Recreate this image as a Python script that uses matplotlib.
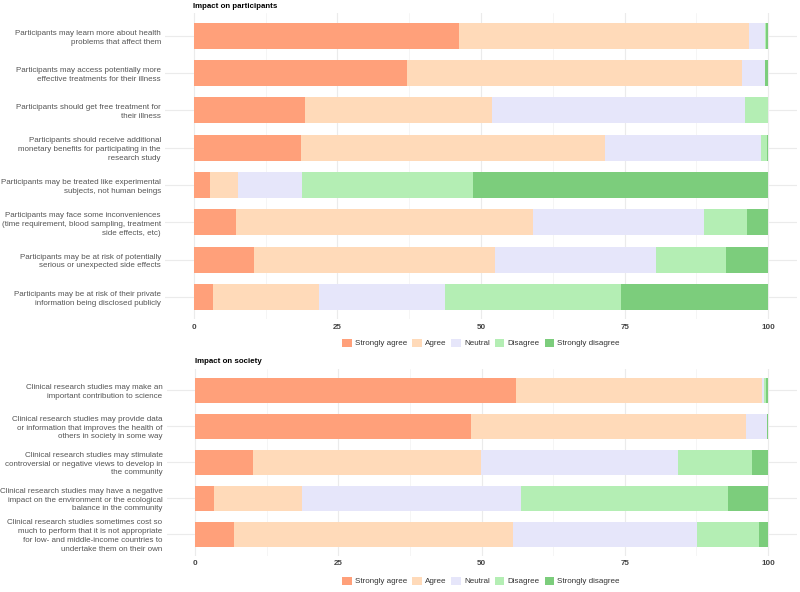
import numpy as np
import matplotlib
matplotlib.use("Agg")
import matplotlib.pyplot as plt
from matplotlib.patches import Patch

plt.rcParams['font.family'] = ['Liberation Sans', 'DejaVu Sans']

levels = ["Strongly agree", "Agree", "Neutral", "Disagree", "Strongly disagree"]
colors = ["#FFA07A", "#FFDAB9", "#E6E6FA", "#B4EEB4", "#7CCD7C"]

part_labels = [
    "Participants may learn more about health\nproblems that affect them",
    "Participants may access potentially more\neffective treatments for their illness",
    "Participants should get free treatment for\ntheir illness",
    "Participants should receive additional\nmonetary benefits for participating in the\nresearch study",
    "Participants may be treated like experimental\nsubjects, not human beings",
    "Participants may face some inconveniences\n(time requirement, blood sampling, treatment\nside effects, etc)",
    "Participants may be at risk of potentially\nserious or unexpected side effects",
    "Participants may be at risk of their private\ninformation being disclosed publicly",
]
# percentages per level: SA, A, N, D, SD
part_sa = [46.2, 37.2, 19.4, 18.7, 2.9, 7.3, 10.5, 3.3]
part_a = [50.5, 58.2, 32.5, 52.8, 4.8, 51.8, 41.9, 18.5]
part_n = [2.7, 4.1, 44.1, 27.3, 11.2, 29.7, 28.0, 21.9]
part_d = [0.2, 0.0, 4.0, 0.9, 29.7, 7.5, 12.3, 30.6]
part_sd = [0.4, 0.5, 0.0, 0.3, 51.4, 3.7, 7.3, 25.7]

soc_labels = [
    "Clinical research studies may make an\nimportant contribution to science",
    "Clinical research studies may provide data\nor information that improves the health of\nothers in society in some way",
    "Clinical research studies may stimulate\ncontroversial or negative views to develop in\nthe community",
    "Clinical research studies may have a negative\nimpact on the environment or the ecological\nbalance in the community",
    "Clinical research studies sometimes cost so\nmuch to perform that it is not appropriate\nfor low- and middle-income countries to\nundertake them on their own",
]
soc_sa = [56.0, 48.2, 10.0, 3.3, 6.8]
soc_a = [42.9, 47.9, 39.8, 15.4, 48.6]
soc_n = [0.4, 3.7, 34.5, 38.2, 32.2]
soc_d = [0.4, 0.0, 12.9, 36.2, 10.8]
soc_sd = [0.3, 0.2, 2.8, 6.9, 1.6]

W, H = 800, 592
fig = plt.figure(figsize=(W / 100, H / 100), dpi=100)


def px_axes(left, right, top, bottom):
    return fig.add_axes([left / W, 1 - bottom / H, (right - left) / W, (bottom - top) / H])


def draw_panel(ax, labels, series, title, title_x, title_y):
    n = len(labels)
    y = np.arange(n)
    left = np.zeros(n)
    for vals, c in zip(series, colors):
        vals = np.array(vals)
        ax.barh(y, vals, left=left, height=0.7, color=c, edgecolor='none', zorder=2)
        left += vals
    ax.set_xlim(-5, 105)
    ax.set_ylim(n - 1 + 0.6, -0.6)
    ax.set_yticks(y)
    ax.set_yticklabels(labels, fontsize=5.75, color="#555555", linespacing=1.35)
    ax.set_xticks([0, 25, 50, 75, 100])
    ax.set_xticklabels(["0", "25", "50", "75", "100"], fontsize=5.8, color="#444444",
                       fontweight='bold')
    ax.set_xticks([12.5, 37.5, 62.5, 87.5], minor=True)
    ax.tick_params(axis='both', which='both', length=0, pad=3)
    ax.grid(axis='x', which='major', color="#EBEBEB", lw=0.8, zorder=0)
    ax.grid(axis='x', which='minor', color="#F2F2F2", lw=0.5, zorder=0)
    ax.grid(axis='y', which='major', color="#EBEBEB", lw=0.8, zorder=0)
    for s in ax.spines.values():
        s.set_visible(False)
    fig.text(title_x / W, 1 - title_y / H, title, fontsize=5.7, fontweight='bold',
             color="black", ha='left', va='center')


ax1 = px_axes(165, 797, 13.4, 319.4)
draw_panel(ax1, part_labels, [part_sa, part_a, part_n, part_d, part_sd],
           "Impact on participants", 193, 6.5)

ax2 = px_axes(166.7, 796.6, 368.6, 555.8)
draw_panel(ax2, soc_labels, [soc_sa, soc_a, soc_n, soc_d, soc_sd],
           "Impact on society", 195, 361.5)

handles = [Patch(facecolor=c, edgecolor='none') for c in colors]
for ycen in (343, 581):
    fig.legend(handles, levels, loc='center', bbox_to_anchor=(481 / W, 1 - ycen / H),
               ncol=5, frameon=False, fontsize=5.8, handlelength=1.2, handleheight=1.2,
               handletextpad=0.4, columnspacing=0.6, labelcolor="#333333")

fig.savefig("out.png", dpi=100)
